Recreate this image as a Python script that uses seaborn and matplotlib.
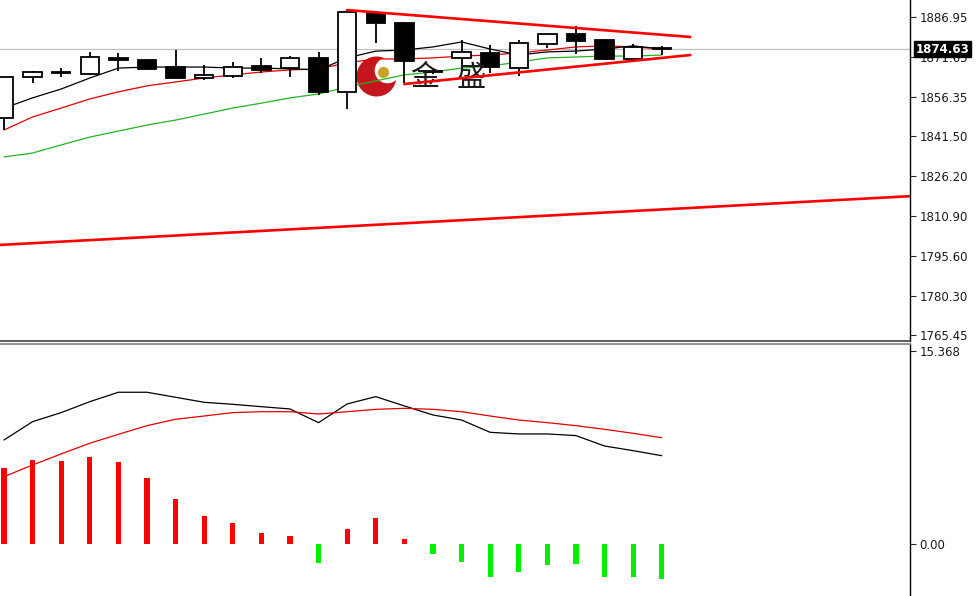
import numpy as np
import pandas as pd
import seaborn as sns
import matplotlib.pyplot as plt
from matplotlib.transforms import blended_transform_factory

# candle data (price)
opens  = [1848.3, 1864.0, 1865.9, 1865.1, 1871.3, 1870.5, 1867.8, 1863.6, 1864.4, 1868.2, 1867.4, 1871.3,
          1858.3, 1888.5, 1884.7, 1866.3, 1871.3, 1873.2, 1867.4, 1876.6, 1880.45, 1878.15, 1870.9, 1875.1]
highs  = [1864.0, 1866.3, 1867.4, 1873.6, 1873.2, 1870.9, 1874.3, 1868.6, 1869.7, 1871.3, 1872.0, 1873.6,
          1889.6, 1888.9, 1884.9, 1867.0, 1878.15, 1876.2, 1878.15, 1880.45, 1883.5, 1878.5, 1876.6, 1875.85]
lows   = [1843.7, 1861.7, 1864.0, 1864.7, 1866.3, 1866.7, 1863.2, 1862.8, 1863.6, 1865.5, 1864.0, 1857.1,
          1851.8, 1877.0, 1861.7, 1865.0, 1867.8, 1865.5, 1864.4, 1875.1, 1872.8, 1870.5, 1870.9, 1872.4]
closes = [1864.0, 1865.9, 1865.6, 1871.65, 1870.5, 1867.05, 1863.6, 1864.8, 1867.8, 1866.7, 1871.3, 1858.3,
          1888.9, 1884.7, 1870.1, 1866.0, 1873.6, 1867.8, 1877.0, 1880.45, 1877.8, 1870.9, 1875.5, 1874.63]

# moving averages
ma_fast = [1852.1, 1856.0, 1859.4, 1863.6, 1867.4, 1867.8, 1867.8, 1867.8, 1867.4, 1867.4, 1867.1, 1866.7,
           1871.3, 1873.9, 1874.3, 1875.5, 1877.4, 1874.7, 1872.4, 1873.6, 1873.9, 1874.7, 1875.9, 1874.7]
ma_mid  = [1843.7, 1848.7, 1852.1, 1855.6, 1858.3, 1860.6, 1862.1, 1863.6, 1864.8, 1865.9, 1866.7, 1867.1,
           1869.4, 1870.9, 1870.9, 1871.3, 1872.0, 1872.4, 1873.2, 1874.3, 1875.5, 1875.9, 1875.5, 1874.7]
ma_slow = [1833.4, 1834.9, 1838.0, 1841.0, 1843.3, 1845.6, 1847.5, 1849.8, 1852.1, 1854.0, 1856.0, 1857.5,
           1860.2, 1862.5, 1864.8, 1865.9, 1867.4, 1868.2, 1869.7, 1871.3, 1871.65, 1872.0, 1872.0, 1872.4]

# drawn trend lines (bar index, price)
upper_trend_x, upper_trend_y = [12, 24], [1889.6, 1879.3]
lower_trend_x, lower_trend_y = [14, 24], [1861.3, 1872.4]
long_trend_x, long_trend_y = [-0.2, 31.7], [1799.7, 1818.4]
last_price = 1874.63

price_ticks = [1886.95, 1871.65, 1856.35, 1841.50, 1826.20, 1810.90, 1795.60, 1780.30, 1765.45]
price_labels = ['1886.95', '1871.65', '1856.35', '1841.50', '1826.20', '1810.90', '1795.60', '1780.30', '1765.45']

# MACD panel
macd_hist = [6.03, 6.69, 6.61, 6.90, 6.50, 5.23, 3.61, 2.26, 1.70, 0.90, 0.64, -1.49,
             1.19, 2.04, 0.42, -0.82, -1.41, -2.65, -2.26, -1.67, -1.59, -2.65, -2.65, -2.81]
macd_line = [8.28, 9.74, 10.46, 11.33, 12.08, 12.08, 11.68, 11.28, 11.12, 10.93, 10.75, 9.66,
             11.15, 11.73, 10.99, 10.27, 9.87, 8.89, 8.76, 8.76, 8.63, 7.80, 7.43, 7.03]
macd_signal = [5.36, 6.29, 7.17, 8.02, 8.73, 9.42, 9.93, 10.19, 10.46, 10.53, 10.53, 10.35,
               10.53, 10.72, 10.80, 10.72, 10.53, 10.19, 9.87, 9.66, 9.42, 9.13, 8.81, 8.46]
macd_ticks = [15.368, 0.00]
macd_labels = ['15.368', '0.00']

idx = np.arange(len(opens))
df = pd.DataFrame({'i': idx, 'o': opens, 'h': highs, 'l': lows, 'c': closes,
                   'fast': ma_fast, 'mid': ma_mid, 'slow': ma_slow,
                   'hist': macd_hist, 'macd': macd_line, 'sig': macd_signal})

sns.set_style('white')
plt.rcParams['font.family'] = ['DejaVu Sans']

fig = plt.figure(figsize=(9.79, 5.96), dpi=100)
ax = fig.add_axes([0, 0.4279, 0.9295, 0.5721])
ax2 = fig.add_axes([0, 0, 0.9295, 0.4228])

# --- price panel ---
ax.axhline(last_price, color='#c0c0c0', lw=0.9, zorder=1)

# watermark logo (crescent + gold ball + text)
ax.scatter([0.4132], [0.7771], s=830, color='#c4161c', transform=ax.transAxes, zorder=1.5, lw=0)
ax.scatter([0.4250], [0.7960], s=340, color='white', transform=ax.transAxes, zorder=1.6, lw=0)
ax.scatter([0.4209], [0.7890], s=65, color='#c9a227', transform=ax.transAxes, zorder=1.7, lw=0)
for ch, cx in [('金', 0.467), ('盛', 0.5176)]:
    ax.text(cx, 0.772, ch, transform=ax.transAxes, fontsize=21, color='#1a1a1a',
            family=['Noto Sans CJK SC', 'DejaVu Sans'], ha='center', va='center', zorder=4.5)

# moving averages
sns.lineplot(data=df, x='i', y='slow', ax=ax, color='#22b422', lw=0.9, zorder=2)
sns.lineplot(data=df, x='i', y='mid', ax=ax, color='#e00000', lw=0.9, zorder=2)
sns.lineplot(data=df, x='i', y='fast', ax=ax, color='black', lw=0.9, zorder=2)

# candles
up = df['c'] >= df['o']
ax.vlines(df['i'], df['l'], df['h'], color='black', lw=1.3, zorder=3)
body_lo = np.minimum(df['o'], df['c'])
body_h = np.maximum(np.abs(df['c'] - df['o']), 0.35)
ax.bar(df['i'], body_h, bottom=body_lo, width=0.64,
       color=np.where(up, 'white', 'black'), edgecolor='black', lw=1.3, zorder=4)

# trend lines
for tx, ty in [(upper_trend_x, upper_trend_y), (lower_trend_x, lower_trend_y), (long_trend_x, long_trend_y)]:
    ax.plot(tx, ty, color='#ff0000', lw=1.9, zorder=5)

ax.set_xlim(-0.14, 31.68)
ax.set_ylim(1762.99, 1893.45)

# --- MACD panel ---
sns.lineplot(data=df, x='i', y='macd', ax=ax2, color='black', lw=0.9)
sns.lineplot(data=df, x='i', y='sig', ax=ax2, color='#e00000', lw=0.9)
ax2.bar(df['i'], df['hist'], width=0.18,
        color=np.where(df['hist'] >= 0, '#ff0000', '#00f000'), lw=0)
ax2.set_xlim(-0.14, 31.68)
ax2.set_ylim(-4.14, 15.92)

for a, ticks, labels in [(ax, price_ticks, price_labels), (ax2, macd_ticks, macd_labels)]:
    a.set_xlabel('')
    a.set_ylabel('')
    a.set_xticks([])
    a.yaxis.tick_right()
    a.set_yticks(ticks)
    a.set_yticklabels(labels)
    a.tick_params(axis='y', direction='out', length=4, width=0.8, pad=3,
                  labelsize=8.5, labelcolor='#1a1a1a', right=True)
    for side in ['left', 'top', 'bottom', 'right']:
        a.spines[side].set_visible(False)
    a.spines['right'].set_visible(True)
    a.spines['right'].set_color('black')
    a.spines['right'].set_linewidth(1)

ax.spines['bottom'].set_visible(True)
ax.spines['bottom'].set_color('#404040')
ax.spines['bottom'].set_linewidth(1.2)
ax2.spines['top'].set_visible(True)
ax2.spines['top'].set_color('#808080')
ax2.spines['top'].set_linewidth(1.2)

# current price tag, drawn over the 1871.65 label as on the original
trans = blended_transform_factory(ax.transAxes, ax.transData)
ax.text(1.0065, last_price, '1874.63', transform=trans, fontsize=8.5, color='white',
        fontweight='bold', va='center', ha='left', clip_on=False, zorder=10,
        bbox=dict(boxstyle='square,pad=0.12', fc='black', ec='black'))

fig.savefig('out.png', dpi=100)
